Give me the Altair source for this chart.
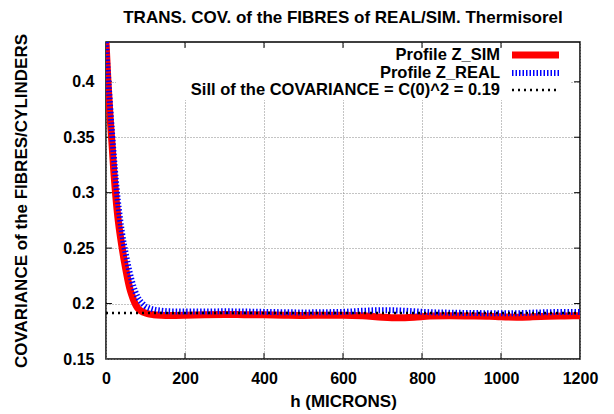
import altair as alt
import pandas as pd

# ---- data ----
h_sim = [0, 5, 10, 15, 20, 25, 30, 35, 40, 45, 50, 55, 60, 65, 70, 75, 80, 90, 100, 110, 120, 140, 160,
         200, 250, 300, 350, 400, 450, 500, 550, 600, 650, 700, 740, 780, 820, 870, 920, 970, 1000,
         1040, 1080, 1120, 1160, 1200]
cov_sim = [0.436, 0.400, 0.370, 0.345, 0.318, 0.296, 0.278, 0.264, 0.252, 0.241, 0.231, 0.222, 0.214,
           0.208, 0.203, 0.199, 0.196, 0.193, 0.1915, 0.1905, 0.190, 0.1895, 0.1893,
           0.1895, 0.190, 0.1902, 0.190, 0.1898, 0.1895, 0.1893, 0.1895, 0.1895, 0.189, 0.1877, 0.1872,
           0.1877, 0.1887, 0.189, 0.1888, 0.1885, 0.188, 0.1877, 0.188, 0.1885, 0.1888, 0.189]

h_real = [0, 5, 10, 15, 20, 25, 30, 35, 40, 45, 50, 55, 60, 65, 70, 75, 80, 90, 100, 110, 120, 140, 160,
          200, 250, 300, 350, 400, 450, 500, 550, 600, 650, 700, 740, 780, 820, 870, 920, 970, 1000,
          1040, 1080, 1120, 1160, 1200]
cov_real = [0.436, 0.406, 0.380, 0.355, 0.332, 0.311, 0.293, 0.278, 0.265, 0.254, 0.245, 0.236, 0.228,
            0.221, 0.215, 0.210, 0.206, 0.201, 0.1975, 0.1958, 0.1947, 0.1936, 0.193,
            0.1928, 0.1928, 0.193, 0.1928, 0.1925, 0.1922, 0.192, 0.1922, 0.1925, 0.1935, 0.194, 0.1938,
            0.193, 0.1922, 0.1918, 0.1915, 0.1913, 0.1912, 0.1913, 0.1918, 0.1922, 0.1925, 0.1925]

sill = 0.1915
x_ticks = [0, 200, 400, 600, 800, 1000, 1200]
y_ticks = [0.15, 0.2, 0.25, 0.3, 0.35, 0.4]
legend_labels = ["Profile Z_SIM", "Profile Z_REAL", "Sill of the COVARIANCE = C(0)^2 = 0.19"]

title = "TRANS. COV. of the FIBRES of REAL/SIM. Thermisorel"
x_title = "h (MICRONS)"
y_title = "COVARIANCE of the FIBRES/CYLINDERS"

X_DOM = [0, 1200]
Y_DOM = [0.15, 0.4359]
FONT = "Liberation Sans"
FS = 16.5
FS_LAB = 16
FS_TITLE = 17
W, H = 474, 317

sim_df = pd.DataFrame({"h": h_sim, "c": cov_sim})
real_df = pd.DataFrame({"h": h_real, "c": cov_real})
sill_df = pd.DataFrame({"h": [X_DOM[0], X_DOM[1]], "c": [sill, sill]})

xs = alt.Scale(domain=X_DOM, nice=False, zero=False)
ys = alt.Scale(domain=Y_DOM, nice=False, zero=False)

xaxis = alt.Axis(values=x_ticks, title=x_title, grid=True, ticks=False, domain=False,
                 labelPadding=11, titlePadding=7, format="d", labelFlush=False)
yaxis = alt.Axis(values=y_ticks, title=y_title, grid=True, ticks=False, domain=False,
                 labelPadding=12, titlePadding=32, format=".2~f", labelFlush=False)

base_grid = alt.Chart(sim_df).mark_line(opacity=0).encode(
    x=alt.X("h:Q", scale=xs, axis=xaxis),
    y=alt.Y("c:Q", scale=ys, axis=yaxis),
)

# white key box hiding the grid behind the legend
key_box = alt.Chart(sim_df.head(1)).mark_rect(color="white").encode(
    x=alt.value(10), x2=alt.value(464), y=alt.value(6), y2=alt.value(58)
)

# inward ticks (mirrored on all four sides)
xt = pd.DataFrame({"h": [v for v in x_ticks[1:-1]]})
yt = pd.DataFrame({"c": [v for v in y_ticks[1:]]})
tick_len_x = 15.0
tick_len_y = 0.0054
ticks_bottom = alt.Chart(xt).mark_rule(color="black", strokeWidth=1).encode(
    x=alt.X("h:Q", scale=xs), y=alt.datum(Y_DOM[0]), y2=alt.datum(Y_DOM[0] + tick_len_y))
ticks_top = alt.Chart(xt).mark_rule(color="black", strokeWidth=1).encode(
    x=alt.X("h:Q", scale=xs), y=alt.datum(Y_DOM[1]), y2=alt.datum(Y_DOM[1] - tick_len_y))
ticks_left = alt.Chart(yt).mark_rule(color="black", strokeWidth=1).encode(
    y=alt.Y("c:Q", scale=ys), x=alt.datum(X_DOM[0]), x2=alt.datum(X_DOM[0] + tick_len_x))
ticks_right = alt.Chart(yt).mark_rule(color="black", strokeWidth=1).encode(
    y=alt.Y("c:Q", scale=ys), x=alt.datum(X_DOM[1]), x2=alt.datum(X_DOM[1] - tick_len_x))

sim_line = alt.Chart(sim_df).mark_line(color="#ff0000", strokeWidth=7, interpolate="monotone",
                                       clip=True).encode(
    x=alt.X("h:Q", scale=xs), y=alt.Y("c:Q", scale=ys))
real_line = alt.Chart(real_df).mark_line(color="#0000ff", strokeWidth=6, strokeDash=[1.5, 2],
                                         strokeCap="butt", interpolate="monotone", clip=True).encode(
    x=alt.X("h:Q", scale=xs), y=alt.Y("c:Q", scale=ys))
sill_line = alt.Chart(sill_df).mark_line(color="black", strokeWidth=2.5, strokeDash=[2, 4],
                                         strokeCap="butt", clip=True).encode(
    x=alt.X("h:Q", scale=xs), y=alt.Y("c:Q", scale=ys))

# key entries
key_rows = [13, 31, 48]
key_styles = [
    dict(color="#ff0000", strokeWidth=7),
    dict(color="#0000ff", strokeWidth=6, strokeDash=[1.5, 2], strokeCap="butt"),
    dict(color="black", strokeWidth=2.5, strokeDash=[2, 4], strokeCap="butt"),
]
key_layers = []
for lab, yy, st in zip(legend_labels, key_rows, key_styles):
    key_layers.append(
        alt.Chart(sim_df.head(1)).mark_text(text=lab, font=FONT, fontSize=FS, fontWeight="bold",
                                            align="right", baseline="middle", color="black").encode(
            x=alt.value(394), y=alt.value(yy)))
    key_layers.append(
        alt.Chart(sim_df.head(1)).mark_rule(**st).encode(
            x=alt.value(406), x2=alt.value(453), y=alt.value(yy)))

chart = alt.layer(
    base_grid, key_box, ticks_bottom, ticks_top, ticks_left, ticks_right,
    sim_line, real_line, sill_line, *key_layers
).properties(
    width=W, height=H,
    background="white",
    title=alt.TitleParams(title, font=FONT, fontSize=FS_TITLE, fontWeight="bold", anchor="middle",
                          offset=6, color="black"),
    autosize=alt.AutoSizeParams(type="none"),
    padding={"left": 98, "top": 34, "right": 26, "bottom": 56},
).configure_view(
    stroke="black", strokeWidth=1.5
).configure_axis(
    labelFont=FONT, labelFontSize=FS_LAB, labelFontWeight="bold", labelColor="black",
    titleFont=FONT, titleFontSize=17, titleFontWeight="bold", titleColor="black",
    gridColor="#888888", gridDash=[1, 2], gridWidth=1,
)

chart.save("out.html", embed_options={"renderer": "svg", "actions": False})
